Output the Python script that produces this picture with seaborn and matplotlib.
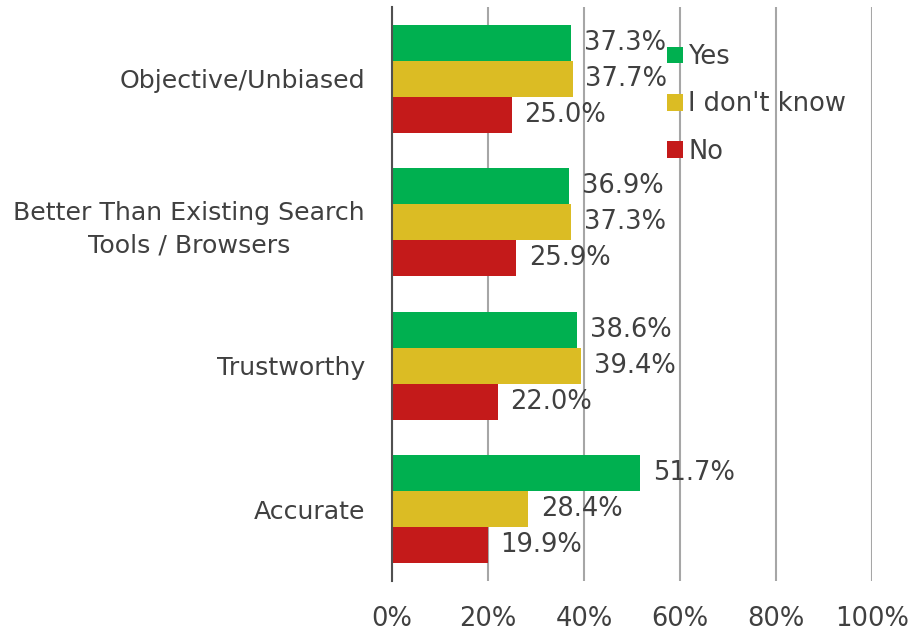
import matplotlib
matplotlib.use("Agg")
import matplotlib.pyplot as plt
import seaborn as sns
import pandas as pd
from matplotlib.patches import Patch

categories = ["Objective/Unbiased", "Better Than Existing Search\nTools / Browsers", "Trustworthy", "Accurate"]
series = ["Yes", "I don't know", "No"]
yes_vals = [37.3, 36.9, 38.6, 51.7]
dunno_vals = [37.7, 37.3, 39.4, 28.4]
no_vals = [25.0, 25.9, 22.0, 19.9]
colors = ["#00B050", "#DBBC24", "#C41A1A"]
xticks = [0, 20, 40, 60, 80, 100]
xtick_labels = ["0%", "20%", "40%", "60%", "80%", "100%"]

rows = []
for s, vals in zip(series, [yes_vals, dunno_vals, no_vals]):
    for c, v in zip(categories, vals):
        rows.append({"category": c, "series": s, "value": v})
df = pd.DataFrame(rows)

sns.set_theme(style="white")
plt.rcParams["font.family"] = ["DejaVu Sans"]
text_color = "#404040"
fs = 18.5

fig = plt.figure(figsize=(9.11, 6.37), dpi=100)
ax = fig.add_axes([392 / 911, 1 - 581 / 637, (872 - 392) / 911, (581 - 7) / 637])

sns.barplot(data=df, y="category", x="value", hue="series", order=categories,
            hue_order=series, palette=colors, orient="h", width=0.75, gap=0,
            saturation=1, ax=ax, legend=False, linewidth=0)

for cont in ax.containers:
    ax.bar_label(cont, fmt="%.1f%%", padding=9, fontsize=fs, color=text_color)

ax.set_xlim(0, 100)
ax.set_xticks(xticks)
ax.set_xticklabels(xtick_labels)
ax.set_xlabel("")
ax.set_ylabel("")
ax.grid(axis="x", color="#A6A6A6", linewidth=1.5)
ax.set_axisbelow(True)
for side in ["top", "right", "bottom"]:
    ax.spines[side].set_visible(False)
ax.spines["left"].set_color("#505050")
ax.spines["left"].set_linewidth(1.5)
ax.tick_params(axis="x", length=0, pad=18, labelsize=fs, labelcolor=text_color)
ax.tick_params(axis="y", length=0, pad=19.5, labelsize=18.2, labelcolor=text_color)
for lbl in ax.get_yticklabels():
    lbl.set_horizontalalignment("right")
    lbl.set_multialignment("center")
    lbl.set_linespacing(1.45)

handles = [Patch(facecolor=c, edgecolor="none") for c in colors]
fig.legend(handles, series, loc="upper left", bbox_to_anchor=(667 / 911, 1 - 44 / 637),
           frameon=False, fontsize=fs, handlelength=0.62, handleheight=0.62,
           handletextpad=0.2, labelspacing=0.83, borderpad=0, borderaxespad=0,
           labelcolor=text_color)

fig.savefig("out.png", dpi=100)
